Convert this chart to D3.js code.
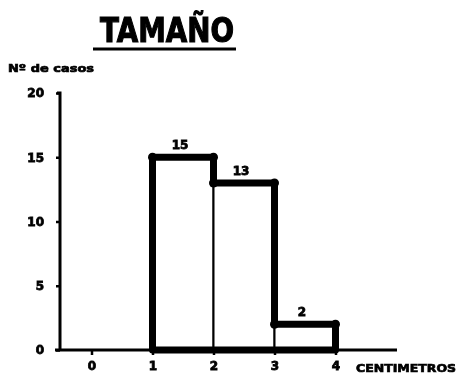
<!DOCTYPE html>
<html>
<head>
<meta charset="utf-8">
<script src="https://cdn.jsdelivr.net/npm/d3@7"></script>
<style>
  html, body { margin: 0; padding: 0; background: #fff; }
  svg { display: block; }
  text { font-family: "DejaVu Sans", "Liberation Sans", sans-serif; font-weight: bold; fill: #000; }
</style>
</head>
<body>
<svg id="chart" width="461" height="380"></svg>
<script>
// Size classes (cm) and number of cases in each
const binStart = [1, 2, 3];
const binEnd = [2, 3, 4];
const cases = [15, 13, 2];
const valueLabels = ["15", "13", "2"];
const xTicks = [0, 1, 2, 3, 4];
const yTicks = [0, 5, 10, 15, 20];

const svg = d3.select("#chart");

// soft print look
const defs = svg.append("defs");
defs.append("filter").attr("id", "soft")
  .append("feGaussianBlur").attr("stdDeviation", 0.6);

const g = svg.append("g").attr("filter", "url(#soft)");

const x = d3.scaleLinear().domain([0, 4]).range([91.5, 335.5]);
const y = d3.scaleLinear().domain([0, 20]).range([350, 93]);

// Title
g.append("text")
  .attr("x", 167).attr("y", 42)
  .attr("text-anchor", "middle")
  .attr("font-size", 34)
  .attr("textLength", 134)
  .attr("lengthAdjust", "spacingAndGlyphs")
  .style("font-weight", 900)
  .style("stroke", "#000").style("stroke-width", 1.2)
  .text("TAMAÑO");
g.append("line")
  .attr("x1", 93).attr("x2", 236).attr("y1", 49).attr("y2", 49)
  .attr("stroke", "#000").attr("stroke-width", 3);

// Y axis title
g.append("text")
  .attr("x", 8).attr("y", 72)
  .attr("font-size", 11)
  .attr("textLength", 86)
  .attr("lengthAdjust", "spacingAndGlyphs")
  .style("stroke", "#000").style("stroke-width", 0.7)
  .text("Nº de casos");

// Y axis
const yAxis = d3.axisLeft(y).tickValues(yTicks).tickSize(4).tickPadding(12)
  .tickFormat(d3.format("d"));
const ya = g.append("g").attr("transform", "translate(60,0)").call(yAxis);
ya.select(".domain").attr("d", `M-3,${y(20)}H0V${y(0)}`)
  .attr("stroke", "#000").attr("stroke-width", 3).attr("fill", "none");
ya.selectAll(".tick line").attr("stroke", "#000").attr("stroke-width", 2.5);
ya.selectAll(".tick text").attr("font-size", 12)
  .style("font-family", "DejaVu Sans").style("font-weight", "bold")
  .style("stroke", "#000").style("stroke-width", 0.8);

// X axis
const xAxis = d3.axisBottom(x).tickValues(xTicks).tickSize(5).tickPadding(6)
  .tickFormat(d3.format("d"));
const xa = g.append("g").attr("transform", `translate(0,${y(0)})`).call(xAxis);
xa.select(".domain").attr("d", `M55,0H397`)
  .attr("stroke", "#000").attr("stroke-width", 3).attr("fill", "none");
xa.selectAll(".tick line").attr("stroke", "#000").attr("stroke-width", 2.5);
xa.selectAll(".tick text").attr("font-size", 12)
  .style("font-family", "DejaVu Sans").style("font-weight", "bold")
  .style("stroke", "#000").style("stroke-width", 0.8);

g.append("text")
  .attr("x", 356).attr("y", 372)
  .attr("font-size", 11)
  .attr("textLength", 100)
  .attr("lengthAdjust", "spacingAndGlyphs")
  .style("stroke", "#000").style("stroke-width", 0.7)
  .text("CENTIMETROS");

// Bars: thin inner outlines
const bars = cases.map((v, i) => ({ x0: binStart[i], x1: binEnd[i], v, label: valueLabels[i] }));
g.selectAll("rect.bar").data(bars).join("rect")
  .attr("class", "bar")
  .attr("x", d => x(d.x0)).attr("y", d => y(d.v))
  .attr("width", d => x(d.x1) - x(d.x0))
  .attr("height", d => y(0) - y(d.v))
  .attr("fill", "#fff").attr("stroke", "#000").attr("stroke-width", 2);

// Thick histogram outline
const pts = [[bars[0].x0, 0]];
bars.forEach(d => { pts.push([d.x0, d.v]); pts.push([d.x1, d.v]); });
pts.push([bars[bars.length - 1].x1, 0]);
const outline = d3.line().x(p => x(p[0])).y(p => y(p[1]));
g.append("path")
  .attr("d", outline(pts) + "Z")
  .attr("fill", "none").attr("stroke", "#000")
  .attr("stroke-width", 7).attr("stroke-linejoin", "round");

// Corner marks on the outline
const corners = bars.flatMap(d => [[d.x0, d.v], [d.x1, d.v]]);
g.selectAll("circle.corner").data(corners).join("circle")
  .attr("class", "corner")
  .attr("cx", p => x(p[0])).attr("cy", p => y(p[1]))
  .attr("r", 4.5).attr("fill", "#000");

// Value labels
g.selectAll("text.val").data(bars).join("text")
  .attr("class", "val")
  .attr("x", d => (x(d.x0) + x(d.x1)) / 2 - 3)
  .attr("y", d => y(d.v) - 8)
  .attr("text-anchor", "middle")
  .attr("font-size", 12)
  .style("stroke", "#000").style("stroke-width", 0.8)
  .text(d => d.label);
</script>
</body>
</html>
